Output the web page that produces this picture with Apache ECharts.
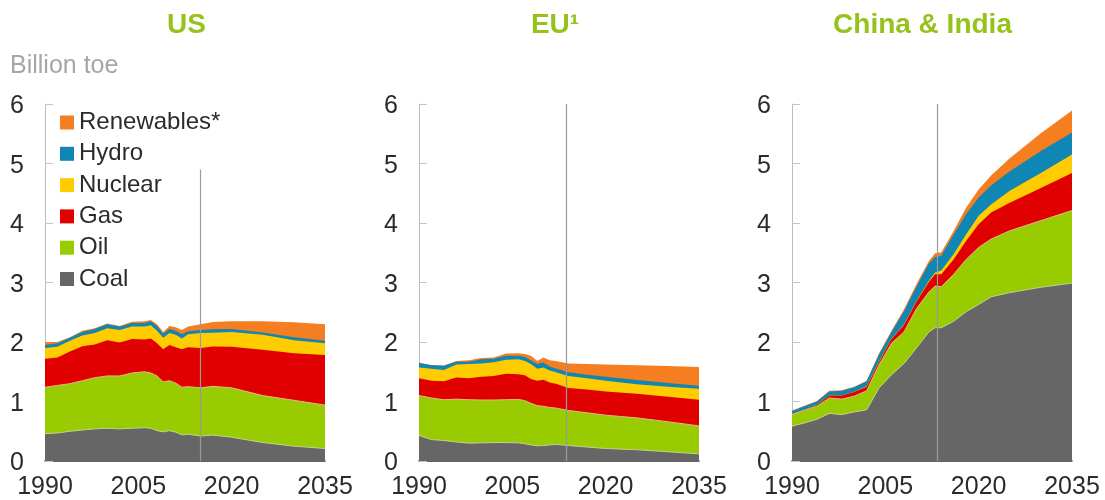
<!DOCTYPE html>
<html>
<head>
<meta charset="utf-8">
<style>html,body{margin:0;padding:0;background:#fff}#c{width:1105px;height:500px}</style>
<script src="https://cdn.jsdelivr.net/npm/echarts@6/dist/echarts.min.js"></script>
</head>
<body>
<div id="c"></div>
<script>
const fuelNames = ['Coal','Oil','Gas','Nuclear','Hydro','Renewables*'];
const legendOrder = ['Renewables*','Hydro','Nuclear','Gas','Oil','Coal'];
const panelTitles = ['US','EU¹','China & India'];

const yearsUS = [1990,1992,1994,1996,1998,2000,2002,2004,2006,2007,2008,2009,2010,2011,2012,2013,2015,2017,2020,2025,2030,2035];
const coalUS = [.46,.47,.50,.52,.54,.55,.54,.55,.56,.55,.51,.49,.51,.485,.44,.45,.42,.435,.40,.31,.25,.21];
const oilUS = [.78,.80,.80,.83,.86,.88,.89,.93,.94,.93,.92,.84,.84,.825,.80,.80,.81,.82,.83,.79,.77,.73];
const gasUS = [.48,.47,.54,.58,.56,.60,.56,.57,.54,.58,.55,.55,.60,.60,.64,.66,.67,.67,.69,.77,.79,.84];
const nuclearUS = [.18,.18,.18,.18,.19,.20,.21,.21,.22,.22,.21,.19,.20,.21,.18,.22,.25,.23,.25,.25,.22,.20];
const hydroUS = [.05,.06,.05,.06,.07,.07,.06,.06,.06,.07,.08,.07,.07,.07,.07,.05,.05,.06,.05,.04,.05,.04];
const renewUS = [.05,.02,.01,.02,.01,.01,.01,.02,.03,.02,.03,.03,.05,.06,.07,.08,.10,.12,.13,.19,.25,.28];

const yearsEU = [1990,1992,1994,1996,1998,2000,2002,2004,2006,2007,2008,2009,2010,2011,2012,2014,2017,2020,2025,2030,2035];
const coalEU = [.43,.36,.345,.32,.30,.305,.31,.31,.305,.29,.27,.255,.26,.27,.28,.26,.235,.21,.19,.155,.12];
const oilEU = [.67,.70,.685,.72,.73,.72,.715,.72,.73,.725,.70,.675,.66,.63,.61,.59,.575,.56,.535,.505,.47];
const gasEU = [.29,.29,.31,.365,.36,.39,.405,.435,.425,.425,.41,.42,.445,.42,.41,.375,.39,.40,.405,.42,.44];
const nuclearEU = [.18,.20,.19,.215,.24,.225,.23,.235,.25,.24,.25,.20,.205,.20,.19,.205,.19,.18,.16,.17,.185];
const hydroEU = [.075,.06,.07,.05,.04,.07,.06,.07,.06,.07,.065,.08,.085,.07,.065,.06,.06,.065,.07,.06,.05];
const renewEU = [.005,.005,.005,.01,.025,.02,.02,.035,.04,.05,.075,.05,.085,.105,.125,.15,.18,.205,.25,.285,.315];

const yearsCI = [1990,1992,1994,1996,1998,2000,2002,2004,2006,2008,2010,2012,2013,2014,2016,2018,2020,2022,2025,2030,2035];
const coalCI = [.585,.64,.70,.80,.78,.825,.86,1.23,1.45,1.64,1.90,2.17,2.24,2.24,2.35,2.51,2.63,2.76,2.83,2.92,2.99];
const oilCI = [.195,.21,.22,.26,.26,.265,.32,.39,.53,.53,.66,.67,.70,.69,.79,.88,.96,.97,1.04,1.12,1.22];
const gasCI = [.005,.005,.02,.04,.06,.07,.07,.05,.07,.115,.115,.17,.20,.21,.25,.31,.39,.445,.47,.55,.63];
const nuclearCI = [.005,.005,.005,.005,.005,.005,.01,.01,.01,.015,.015,.02,.03,.06,.09,.11,.14,.135,.20,.25,.31];
const hydroCI = [.045,.06,.055,.065,.075,.075,.08,.115,.11,.215,.24,.29,.26,.25,.33,.34,.31,.32,.33,.37,.37];
const renewCI = [.015,.01,.01,.01,.01,.01,.01,.015,.02,.035,.04,.04,.06,.06,.06,.11,.135,.17,.22,.30,.37];

const markerYears = [2014.9,2013.7,2013.3];
const markerTops = [4.9,6,6];

const panels = [
  {years:yearsUS, values:[coalUS,oilUS,gasUS,nuclearUS,hydroUS,renewUS]},
  {years:yearsEU, values:[coalEU,oilEU,gasEU,nuclearEU,hydroEU,renewEU]},
  {years:yearsCI, values:[coalCI,oilCI,gasCI,nuclearCI,hydroCI,renewCI]}
];
const fillColors = ['#666666','#99cc00','#e00000','#ffcc00','#0f86b4','#f47e20'];
const edgeColors = ['#c3d38c','#e6b48a',null,null,null,null];
const gridLefts = [45,419,792];
const titleCenters = [181.5,550,917.5];
const FONT = '"Liberation Sans", Arial, sans-serif';

const grids = [], xAxes = [], yAxes = [], series = [], titles = [];
panels.forEach((p,i) => {
  grids.push({left:gridLefts[i], top:104, width:280, height:359});
  xAxes.push({
    type:'value', gridIndex:i, min:1990, max:2035, interval:15, splitLine:{show:false},
    axisTick:{show:false}, axisLine:{show:true, onZero:false, lineStyle:{color:'#333333', width:1.5}},
    axisLabel:{formatter:v => String(v), color:'#2b2b2b', fontSize:25, fontFamily:FONT, margin:14,
      showMinLabel:true, showMaxLabel:true, hideOverlap:false}
  });
  yAxes.push({
    type:'value', gridIndex:i, min:0, max:6, interval:1, splitLine:{show:false},
    axisLine:{show:true, lineStyle:{color:'#bdbdbd', width:1}},
    axisTick:{show:true, inside:true, length:8, lineStyle:{color:'#c4c4c4', width:1}},
    axisLabel:{formatter:v => '{a|' + v + '}', margin:21,
      rich:{a:{color:'#2b2b2b', fontSize:25, fontFamily:FONT, padding:[5,0,0,0]}}}
  });
  titles.push({text:panelTitles[i], left:titleCenters[i], top:6, textAlign:'center',
    textStyle:{color:'#97c21c', fontSize:28, fontWeight:'bold', fontFamily:FONT}});
  // running total of the layers: each band is filled from the axis up to its own top, upper bands behind lower ones
  const running = p.years.map(() => 0);
  fuelNames.forEach((name,k) => {
    p.values[k].forEach((v,j) => { running[j] += v; });
    const s = {
      name, type:'line', xAxisIndex:i, yAxisIndex:i, z:8-k,
      symbol:'none', showSymbol:false, silent:true, animation:false,
      data:p.years.map((y,j) => [y,+running[j].toFixed(3)]),
      itemStyle:{color:fillColors[k]},
      areaStyle:{color:fillColors[k], opacity:1},
      lineStyle: edgeColors[k] ? {color:edgeColors[k], width:1} : {width:0}
    };
    if (k === 0) {
      s.markLine = {silent:true, symbol:'none', animation:false, z:20, label:{show:false},
        lineStyle:{color:'#9a9a9a', width:1.2, type:'solid'},
        data:[[{coord:[markerYears[i],0]},{coord:[markerYears[i],markerTops[i]]}]]};
    }
    series.push(s);
  });
});
titles.push({text:'Billion toe', left:5, top:49,
  textStyle:{color:'#a6a6a6', fontSize:25, fontWeight:'normal', fontFamily:FONT}});

const chart = echarts.init(document.getElementById('c'), null, {renderer:'canvas'});
chart.setOption({
  animation:false, backgroundColor:'#ffffff',
  title:titles, grid:grids, xAxis:xAxes, yAxis:yAxes, series,
  legend:{
    data:legendOrder.map(n => ({name:n, icon:'rect'})), orient:'vertical', left:60, top:109,
    itemWidth:14, itemHeight:14, itemGap:4.3, padding:0, selectedMode:false,
    textStyle:{color:'#2b2b2b', fontSize:24, lineHeight:24, fontFamily:FONT, padding:[3,0,0,0]}
  }
});
</script>
</body>
</html>
